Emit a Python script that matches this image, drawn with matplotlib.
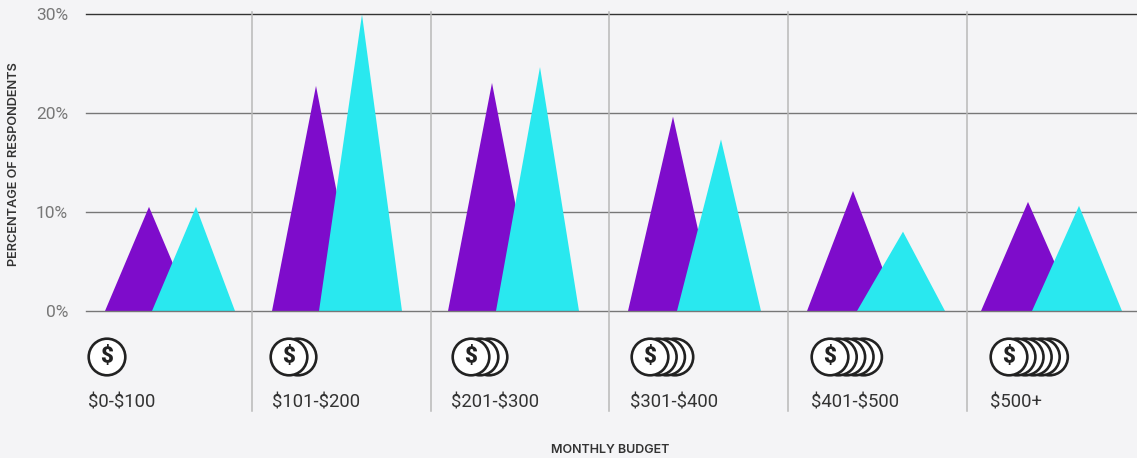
import matplotlib
matplotlib.use('Agg')
import matplotlib.pyplot as plt
from matplotlib.patches import Circle, Polygon

plt.rcParams['font.family'] = 'Roboto'

W, H = 1137, 458
BG = '#f4f4f6'

# survey values, percent of respondents per budget band
budgets = ['$0-$100', '$101-$200', '$201-$300', '$301-$400', '$401-$500', '$500+']
purple_vals = [10.5, 22.7, 23.0, 19.6, 12.1, 11.0]
cyan_vals = [10.5, 29.9, 24.6, 17.3, 8.0, 10.6]
y_ticks = [0, 10, 20, 30]
coin_counts = [1, 2, 3, 4, 5, 6]

# layout in pixels: triangle feet and apex for each band
purple_x = [(105, 149, 193), (272, 316, 360), (448, 492, 536),
            (628, 673, 716), (807, 853, 899), (981, 1028, 1076)]
cyan_x = [(152, 196, 235), (319, 362, 402), (496, 540, 579),
          (677, 721, 761), (857, 903, 945), (1032, 1079, 1122)]
dividers = [252, 431, 609, 788, 967]
coin_x = [107, 289, 471, 650, 830, 1009]
coin_step = [0, 9, 9, 8.3, 8.4, 8.1]
label_x = [88, 272, 451, 630, 811, 990]

fig = plt.figure(figsize=(W / 100, H / 100), dpi=100, facecolor=BG)

# main plot area, x runs in pixels so the triangles can sit freely
ax = fig.add_axes([86 / W, (H - 311) / H, (W - 86) / W, 297.5 / H], facecolor='none')
ax.set_xlim(86, W)
ax.set_ylim(0, 30)
for s in ax.spines.values():
    s.set_visible(False)
ax.set_xticks([])
ax.set_yticks(y_ticks)
ax.set_yticklabels([f'{v}%' for v in y_ticks], fontsize=12.5, color='#777777')
ax.tick_params(axis='y', length=0, pad=13)

for v in y_ticks:
    # the baseline sits on top of the triangles, the others behind them
    ax.axhline(v, color='#333333' if v == 30 else '#777777', lw=1.0,
               zorder=4 if v == 0 else 1, clip_on=False)

for (x0, xm, x1), v in zip(purple_x, purple_vals):
    ax.add_patch(Polygon([(x0, 0), (xm, v), (x1, 0)], closed=True, fc='#7e0ccb', ec='none', zorder=2))
for (x0, xm, x1), v in zip(cyan_x, cyan_vals):
    ax.add_patch(Polygon([(x0, 0), (xm, v), (x1, 0)], closed=True, fc='#29e8ef', ec='none', zorder=3))

# overlay in pixel coordinates for dividers, coins and labels
ov = fig.add_axes([0, 0, 1, 1], facecolor='none')
ov.set_xlim(0, W)
ov.set_ylim(H, 0)
ov.axis('off')

for x in dividers:
    ov.plot([x, x], [12, 411], color='#b8b8b8', lw=1.1, zorder=1)

for x, n, step, name, lx in zip(coin_x, coin_counts, coin_step, budgets, label_x):
    # back coins first so the front one covers them
    for i in range(n - 1, -1, -1):
        ov.add_patch(Circle((x + i * step, 357), 18.3, fc='white', ec='#222222', lw=1.9, zorder=3 + n - i))
    ov.text(x, 357, '$', fontsize=16, fontweight='black', color='#222222',
            ha='center', va='center', zorder=20, parse_math=False)
    ov.text(lx, 402.5, name, fontsize=13.3, color='#333333', ha='left', va='center', parse_math=False)

ov.text(14, 164.5, 'PERCENTAGE OF RESPONDENTS', rotation=90, fontsize=9.2, fontweight='semibold',
        family='Inter', color='#333333', ha='center', va='center')
ov.text(610, 450, 'MONTHLY BUDGET', fontsize=9.0, fontweight='semibold',
        family='Inter', color='#333333', ha='center', va='center')

fig.savefig('out.png', dpi=100, facecolor=BG)
